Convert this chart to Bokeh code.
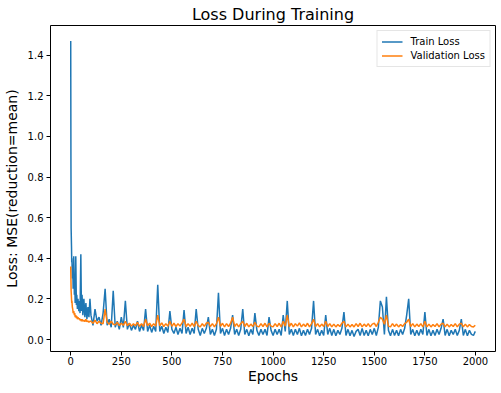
from bokeh.plotting import figure
from bokeh.models import Range1d, Legend, LegendItem, FixedTicker, NumeralTickFormatter
from bokeh.embed import file_html
from bokeh.resources import INLINE

# ---- data ----
early_epochs = [0, 1, 2, 3, 4, 5, 6, 8, 10, 12, 15, 18, 20, 22, 25, 28, 30, 33, 36, 40,
                43, 46, 50, 53, 56, 60, 65, 70, 75, 80, 85, 90, 95]
late_epochs = list(range(100, 2000, 10)) + [1999]
epochs = early_epochs + late_epochs

train_early = [1.47, 0.90, 0.55, 0.50, 0.45, 0.38, 0.40, 0.30, 0.36, 0.25, 0.41, 0.22, 0.28,
               0.18, 0.41, 0.17, 0.22, 0.15, 0.20, 0.14, 0.19, 0.13, 0.42, 0.14, 0.22, 0.12,
               0.20, 0.11, 0.18, 0.10, 0.16, 0.11, 0.20]
train_late = [
    0.12, 0.07, 0.15, 0.09, 0.11, 0.07, 0.13, 0.25, 0.07, 0.10,   # 100-190
    0.06, 0.24, 0.06, 0.09, 0.05, 0.11, 0.06, 0.19, 0.05, 0.08,   # 200-290
    0.045, 0.07, 0.05, 0.09, 0.04, 0.07, 0.045, 0.15, 0.04, 0.07,  # 300-390
    0.035, 0.065, 0.04, 0.27, 0.04, 0.065, 0.03, 0.06, 0.035, 0.14,  # 400-490
    0.05, 0.03, 0.06, 0.025, 0.055, 0.03, 0.145, 0.03, 0.06, 0.025,  # 500-590
    0.055, 0.03, 0.15, 0.05, 0.02, 0.055, 0.03, 0.055, 0.11, 0.025,  # 600-690
    0.05, 0.02, 0.05, 0.23, 0.03, 0.055, 0.02, 0.05, 0.025, 0.055,  # 700-790
    0.12, 0.025, 0.05, 0.02, 0.05, 0.15, 0.025, 0.05, 0.018, 0.05,  # 800-890
    0.025, 0.13, 0.045, 0.02, 0.05, 0.025, 0.05, 0.02, 0.11, 0.045,  # 900-990
    0.02, 0.05, 0.025, 0.05, 0.02, 0.12, 0.04, 0.19, 0.025, 0.05,  # 1000-1090
    0.02, 0.05, 0.025, 0.055, 0.018, 0.045, 0.02, 0.05, 0.025, 0.055,  # 1100-1190
    0.19, 0.025, 0.05, 0.018, 0.045, 0.02, 0.12, 0.025, 0.055, 0.02,  # 1200-1290
    0.05, 0.018, 0.045, 0.025, 0.055, 0.135, 0.02, 0.05, 0.018, 0.045,  # 1300-1390
    0.015, 0.04, 0.05, 0.02, 0.055, 0.02, 0.045, 0.018, 0.05, 0.025,  # 1400-1490
    0.055, 0.02, 0.06, 0.19, 0.16, 0.025, 0.21, 0.045, 0.018, 0.05,  # 1500-1590
    0.02, 0.045, 0.018, 0.05, 0.025, 0.055, 0.12, 0.20, 0.025, 0.05,  # 1600-1690
    0.018, 0.045, 0.02, 0.05, 0.025, 0.135, 0.02, 0.05, 0.018, 0.045,  # 1700-1790
    0.02, 0.05, 0.025, 0.055, 0.10, 0.02, 0.05, 0.018, 0.045, 0.025,  # 1800-1890
    0.05, 0.02, 0.045, 0.10, 0.02, 0.05, 0.018, 0.045, 0.025, 0.02,  # 1900-1990
    0.04]
train_loss = train_early + train_late

val_early = [0.36, 0.30, 0.24, 0.22, 0.20, 0.18, 0.19, 0.16, 0.15, 0.13, 0.14, 0.12, 0.13,
             0.11, 0.12, 0.105, 0.115, 0.10, 0.11, 0.10, 0.105, 0.095, 0.10, 0.09, 0.10,
             0.09, 0.095, 0.088, 0.10, 0.087, 0.092, 0.085, 0.09]
val_late = [
    0.09, 0.08, 0.095, 0.078, 0.09, 0.08, 0.078, 0.15, 0.085, 0.075,   # 100-190
    0.09, 0.075, 0.072, 0.085, 0.068, 0.08, 0.07, 0.09, 0.068, 0.08,   # 200-290
    0.066, 0.078, 0.068, 0.085, 0.065, 0.078, 0.064, 0.10, 0.068, 0.08,  # 300-390
    0.064, 0.078, 0.066, 0.12, 0.068, 0.082, 0.064, 0.078, 0.066, 0.09,  # 400-490
    0.065, 0.08, 0.064, 0.078, 0.066, 0.082, 0.10, 0.064, 0.078, 0.065,  # 500-590
    0.08, 0.064, 0.09, 0.068, 0.062, 0.078, 0.065, 0.08, 0.085, 0.064,  # 600-690
    0.078, 0.062, 0.078, 0.11, 0.065, 0.08, 0.062, 0.078, 0.064, 0.08,  # 700-790
    0.11, 0.064, 0.078, 0.062, 0.078, 0.09, 0.064, 0.08, 0.062, 0.076,  # 800-890
    0.064, 0.085, 0.066, 0.062, 0.078, 0.064, 0.08, 0.062, 0.08, 0.066,  # 900-990
    0.062, 0.078, 0.064, 0.08, 0.062, 0.09, 0.066, 0.12, 0.064, 0.08,  # 1000-1090
    0.062, 0.078, 0.066, 0.082, 0.062, 0.076, 0.064, 0.08, 0.062, 0.078,  # 1100-1190
    0.10, 0.064, 0.078, 0.062, 0.076, 0.064, 0.09, 0.064, 0.078, 0.062,  # 1200-1290
    0.076, 0.062, 0.074, 0.064, 0.08, 0.09, 0.062, 0.076, 0.062, 0.074,  # 1300-1390
    0.062, 0.078, 0.064, 0.08, 0.062, 0.076, 0.064, 0.078, 0.062, 0.076,  # 1400-1490
    0.08, 0.064, 0.085, 0.11, 0.10, 0.075, 0.12, 0.066, 0.062, 0.078,  # 1500-1590
    0.064, 0.076, 0.062, 0.074, 0.064, 0.078, 0.085, 0.10, 0.064, 0.078,  # 1600-1690
    0.062, 0.076, 0.064, 0.078, 0.062, 0.09, 0.062, 0.076, 0.062, 0.074,  # 1700-1790
    0.064, 0.078, 0.062, 0.076, 0.08, 0.062, 0.076, 0.062, 0.074, 0.064,  # 1800-1890
    0.078, 0.062, 0.076, 0.08, 0.062, 0.076, 0.062, 0.074, 0.064, 0.062,  # 1900-1990
    0.07]
val_loss = val_early + val_late

x_ticks = [0, 250, 500, 750, 1000, 1250, 1500, 1750, 2000]
y_ticks = [0.0, 0.2, 0.4, 0.6, 0.8, 1.0, 1.2, 1.4]

FONT = "DejaVu Sans"

p = figure(width=501, height=393, output_backend="svg", toolbar_location=None,
           x_range=Range1d(-99.9, 2098.9), y_range=Range1d(-0.059, 1.546),
           min_border_left=48, min_border_right=6, min_border_top=25, min_border_bottom=42)

p.title.text = "Loss During Training"
p.title.align = "center"
p.title.text_font = FONT
p.title.text_font_size = "16px"
p.title.text_font_style = "normal"
p.title.text_color = "black"
p.title.standoff = 3

r1 = p.line(epochs, train_loss, line_color="#1f77b4", line_width=1.5)
r2 = p.line(epochs, val_loss, line_color="#ff7f0e", line_width=1.5)

p.grid.visible = False
p.outline_line_color = "black"
p.outline_line_width = 1
p.outline_line_alpha = 1
p.background_fill_color = "white"
p.border_fill_color = "white"

for ax in (p.xaxis[0], p.yaxis[0]):
    ax.axis_line_color = None
    ax.major_tick_in = 0
    ax.major_tick_out = 4
    ax.minor_tick_line_color = None
    ax.major_label_text_font = FONT
    ax.major_label_text_font_size = "10px"
    ax.major_label_text_color = "black"
    ax.axis_label_text_font = FONT
    ax.axis_label_text_font_size = "14px"
    ax.axis_label_text_font_style = "normal"
    ax.axis_label_text_color = "black"

p.xaxis[0].major_label_standoff = 1
p.xaxis[0].axis_label_standoff = 0
p.yaxis[0].major_label_standoff = 3
p.yaxis[0].axis_label_standoff = 5

p.xaxis[0].ticker = FixedTicker(ticks=x_ticks)
p.yaxis[0].ticker = FixedTicker(ticks=y_ticks)
p.yaxis[0].formatter = NumeralTickFormatter(format="0.0")
p.xaxis[0].axis_label = "Epochs"
p.yaxis[0].axis_label = "Loss: MSE(reduction=mean)"

legend = Legend(items=[LegendItem(label="Train Loss", renderers=[r1]),
                       LegendItem(label="Validation Loss", renderers=[r2])],
                location="top_right")
legend.label_text_font = FONT
legend.label_text_font_size = "10px"
legend.label_text_color = "black"
legend.border_line_color = "#cccccc"
legend.border_line_width = 1
legend.background_fill_alpha = 0.8
legend.glyph_width = 21
legend.glyph_height = 13
legend.label_height = 13
legend.spacing = 1
legend.padding = 4
legend.margin = 5
legend.label_standoff = 8
p.add_layout(legend)

open("out.html", "w").write(file_html(p, INLINE))
